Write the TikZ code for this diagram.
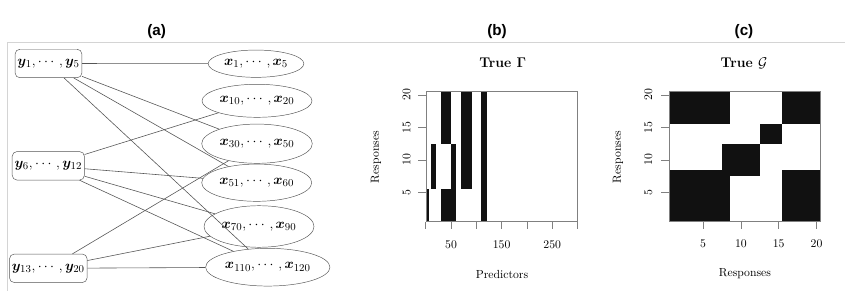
\documentclass[tikz,border=0pt]{standalone}
\usepackage{amsmath, bm}
\usepackage{fontspec}
\newfontfamily\panelfont{Liberation Sans}
\usetikzlibrary{shapes.geometric}
\definecolor{framegray}{HTML}{D4D4D4}
\definecolor{edgegray}{HTML}{555555}
\definecolor{axisgray}{HTML}{808080}
\definecolor{cellblack}{HTML}{111111}

\begin{document}
\begin{tikzpicture}[x=0.03cm, y=-0.03cm,
  ybox/.style={draw=edgegray, rounded corners=4pt, minimum height=24.3pt,
               inner xsep=2pt, font=\fontsize{13}{15}\selectfont},
  xell/.style={draw=edgegray, ellipse, inner sep=0pt, font=\fontsize{13}{15}\selectfont},
  link/.style={edgegray, line width=0.5pt},
  panel/.style={font=\panelfont\bfseries\fontsize{13}{15}\selectfont},
  ptitle/.style={font=\large\bfseries},
  axlab/.style={font=\normalsize},
  cell/.style={fill=cellblack},
  plotbox/.style={draw=axisgray, line width=0.6pt}
]
  \useasboundingbox (0,0) rectangle (845,291);

  % Panel titles and frame
  \node[panel] (ta) at (156.7,31.5) {(a)};
  \node[panel] (tb) at (497,31.5) {(b)};
  \node[panel] (tc) at (744,31.5) {(c)};
  \draw[framegray, line width=0.8pt] (7.3,291) -- (7.3,42.7) -- (845,42.7);

  % (a) responses
  \node[ybox, minimum width=55.5pt] (y1) at (48.5,63.5) {$\bm{y}_1, \cdots, \bm{y}_5$};
  \node[ybox, minimum width=59.8pt] (y6) at (48.3,165.8) {$\bm{y}_6, \cdots, \bm{y}_{12}$};
  \node[ybox, minimum width=64.3pt] (y13) at (48.3,268.3) {$\bm{y}_{13}, \cdots, \bm{y}_{20}$};

  % (a) predictors
  \node[xell, minimum width=81.7pt, minimum height=23.3pt] (x1) at (256,63.7) {$\bm{x}_1, \cdots, \bm{x}_5$};
  \node[xell, minimum width=93.9pt, minimum height=28.2pt] (x10) at (257,100.8) {$\bm{x}_{10}, \cdots, \bm{x}_{20}$};
  \node[xell, minimum width=94.4pt, minimum height=33.5pt] (x30) at (257,143.7) {$\bm{x}_{30}, \cdots, \bm{x}_{50}$};
  \node[xell, minimum width=93.9pt, minimum height=31.8pt] (x51) at (256.7,182.7) {$\bm{x}_{51}, \cdots, \bm{x}_{60}$};
  \node[xell, minimum width=93.9pt, minimum height=35.5pt] (x70) at (259,226.5) {$\bm{x}_{70}, \cdots, \bm{x}_{90}$};
  \node[xell, minimum width=106.1pt, minimum height=32.2pt] (x110) at (267.8,267.2) {$\bm{x}_{110}, \cdots, \bm{x}_{120}$};

  % (a) edges
  \foreach \a/\b in {y1/x1, y1/x30, y1/x51, y1/x110,
                     y6/x10, y6/x51, y6/x70, y6/x110,
                     y13/x30, y13/x70, y13/x110}
    \draw[link] (\a) -- (\b);

  % (b) true Gamma
  \node[ptitle] (gtitle) at (502.7,63) {True $\bm{\Gamma}$};
  \begin{scope}[shift={(425.75,224.95)}, xscale=0.5057, yscale=-6.5]
    \foreach \ca/\cb/\ra/\rb in {1/5/1/5, 10/20/6/12, 30/50/13/20, 30/60/1/5,
                                 51/60/6/12, 70/90/6/20, 110/120/1/20}
      \fill[cell] ({\ca-0.5},{\ra-0.5}) rectangle ({\cb+0.5},{\rb+0.5});
  \end{scope}
  \draw[plotbox] (426,91.7) rectangle (577.7,221.7);
  \foreach \v in {0,50,...,300}
    \draw[plotbox] ({425.75+\v*0.5057},221.7) -- ++(0,7);
  \foreach \r in {5,10,15,20}{
    \draw[plotbox] (426,{224.95-\r*6.5}) -- ++(-7.7,0);
    \node[axlab, rotate=90] (gy\r) at (406.7,{224.95-\r*6.5}) {\r};
  }
  \foreach \v in {50,150,250}
    \node[axlab] (gx\v) at ({425.75+\v*0.5057},245) {\v};
  \node[axlab, rotate=90] (gylab) at (376,157) {Responses};
  \node[axlab] (gxlab) at (502,274) {Predictors};

  % (c) true G
  \node[ptitle] (ctitle) at (744,63) {True $\mathcal{G}$};
  \begin{scope}[shift={(665.2,224.95)}, xscale=7.565, yscale=-6.5]
    \foreach \ca/\cb/\ra/\rb in {1/8/16/20, 16/20/16/20, 13/15/13/15,
                                 8/12/8/12, 1/8/1/8, 16/20/1/8}
      \fill[cell] ({\ca-0.5},{\ra-0.5}) rectangle ({\cb+0.5},{\rb+0.5});
  \end{scope}
  \draw[plotbox] (669,91.7) rectangle (820.3,221.7);
  \foreach \v in {5,10,15,20}{
    \draw[plotbox] ({665.2+\v*7.565},221.7) -- ++(0,7);
    \node[axlab] (cx\v) at ({665.2+\v*7.565},243.5) {\v};
    \draw[plotbox] (669,{224.95-\v*6.5}) -- ++(-7.7,0);
    \node[axlab, rotate=90] (cy\v) at (648.3,{224.95-\v*6.5}) {\v};
  }
  \node[axlab, rotate=90] (cylab) at (618,157) {Responses};
  \node[axlab] (cxlab) at (745,274) {Responses};
\end{tikzpicture}
\end{document}
